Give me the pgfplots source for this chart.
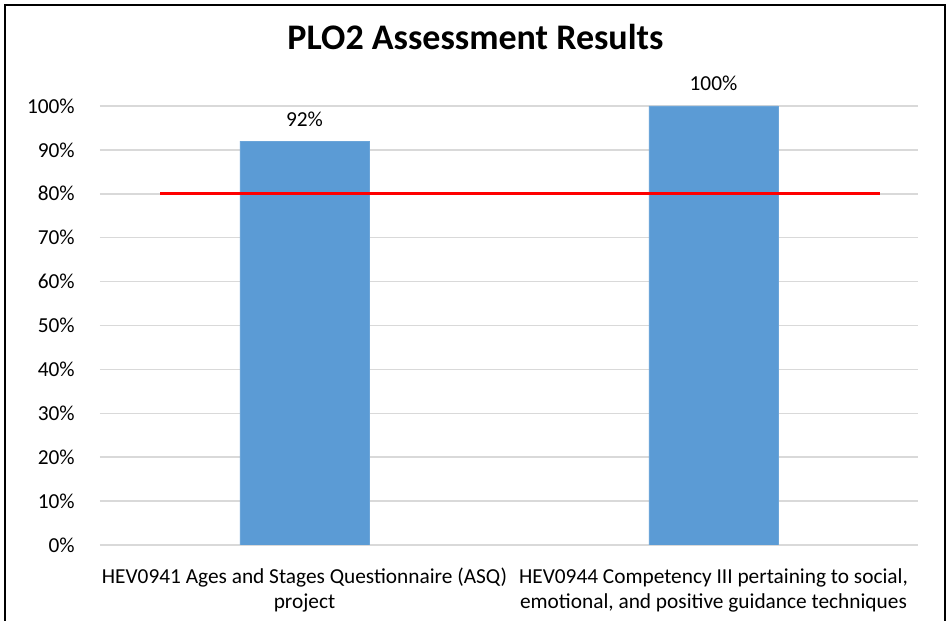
\documentclass[border=0pt]{standalone}
\usepackage{fontspec}
\setmainfont{Carlito}
\usepackage{pgfplots}
\pgfplotsset{compat=1.18}
\definecolor{barblue}{HTML}{5B9BD5}
\definecolor{gridgray}{HTML}{D9D9D9}

\begin{document}
\begin{tikzpicture}
  % page = 951x621 px at 0.75pt per px, origin at the plot's lower left
  \useasboundingbox (-75pt,-57pt) rectangle (638.25pt,408.75pt);
  \draw[line width=1.5pt] (-71.25pt,-60pt) -- (-71.25pt,405pt) -- (633.75pt,405pt) -- (633.75pt,-60pt);
  \node[font=\fontsize{27}{32}\selectfont\bfseries] at (281.6pt,381pt) {PLO2 Assessment Results};
  \begin{axis}[
      at={(0pt,0pt)}, anchor=south west,
      scale only axis,
      width=613.5pt, height=329.25pt,
      xmin=-0.5, xmax=1.5,
      ymin=0, ymax=100,
      ytick={0,10,...,100},
      xtick={0,1},
      xticklabels={{HEV0941 Ages and Stages Questionnaire (ASQ)\\project},
                   {HEV0944 Competency III pertaining to social,\\emotional, and positive guidance techniques}},
      xticklabel style={align=center, font=\fontsize{16}{18.75}\selectfont,
                        anchor=north, inner sep=0pt, yshift=-13pt},
      yticklabel={\pgfmathprintnumber{\tick}\%},
      yticklabel style={font=\fontsize{16}{19}\selectfont, anchor=east, inner sep=0pt, xshift=-18.75pt},
      /pgf/number format/assume math mode=true,
      ymajorgrids,
      grid style={gridgray, line width=1.1pt},
      axis line style={draw=none},
      major tick style={draw=none},
      ybar, bar width=96.75pt,
      nodes near coords={\pgfmathprintnumber{\pgfplotspointmeta}\%},
      nodes near coords style={font=\fontsize{16}{19}\selectfont, anchor=south, inner sep=0pt, yshift=11pt},
    ]
    \addplot[fill=barblue, draw=barblue!90!white] coordinates {(0,92) (1,100)};
    \addplot[sharp plot, red, line width=2pt, nodes near coords={}] coordinates {(-0.353,80) (1.407,80)};
  \end{axis}
\end{tikzpicture}
\end{document}
